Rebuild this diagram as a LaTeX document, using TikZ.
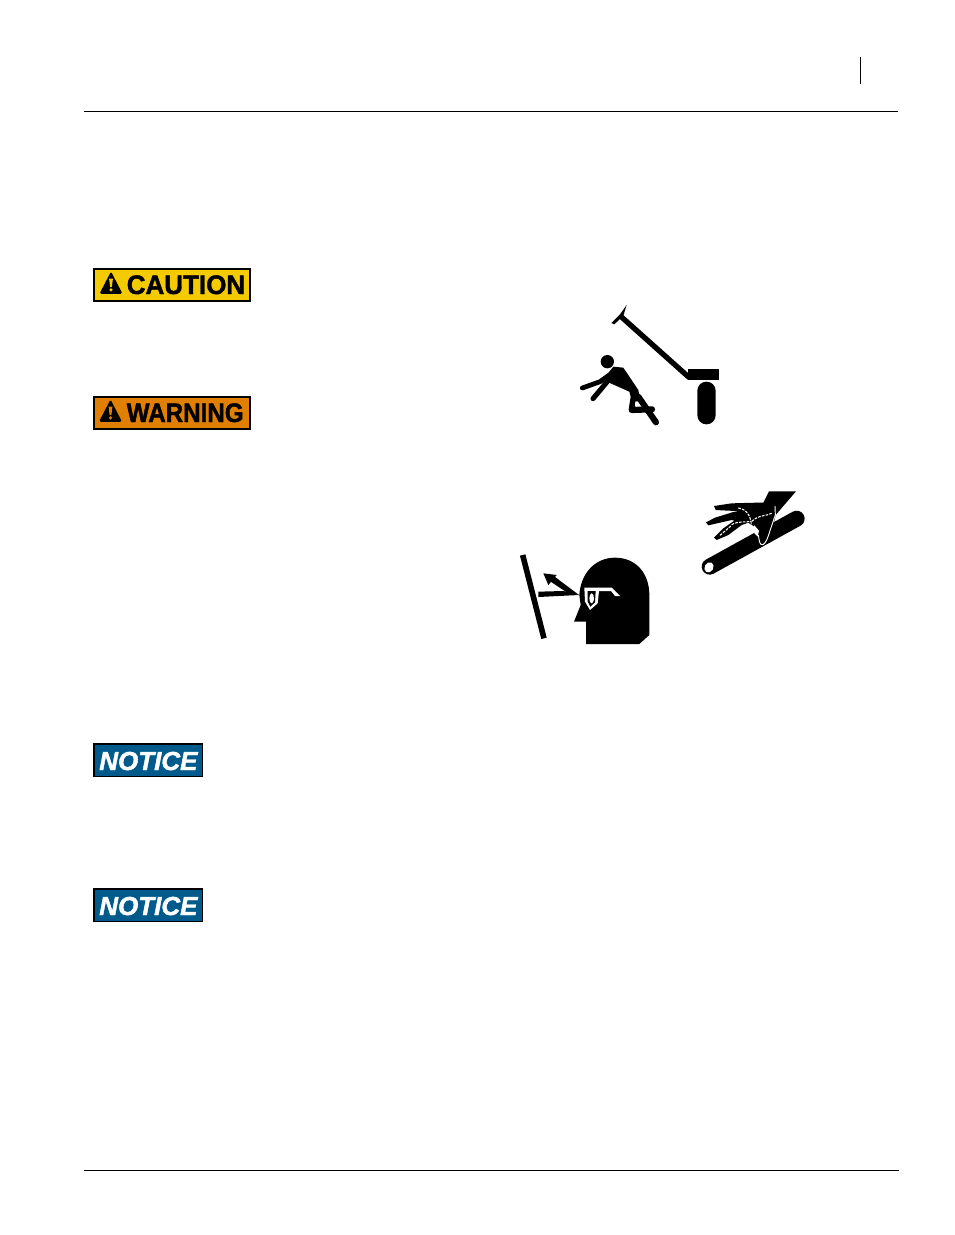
\documentclass[tikz,border=0pt]{standalone}
\usepackage{fontspec}
\usepackage{graphicx}
\setmainfont{Liberation Sans}
\newfontfamily\heavy[UprightFont={* Bold},ItalicFont={* Bold Italic},BoldFont={* Bold},FakeBold=1.6]{Liberation Sans}
\definecolor{cautionY}{HTML}{F4CB00}
\definecolor{warnO}{HTML}{E07F00}
\definecolor{noticeB}{HTML}{005A8C}
\tikzset{
  rulel/.style={draw=black,line width=0.75pt},
  signtext/.style={inner sep=0pt,anchor=base west,font=\heavy\fontsize{19.5pt}{20pt}\selectfont},
  noticetext/.style={inner sep=0pt,anchor=base west,text=white,font=\heavy\itshape\fontsize{19.5pt}{20pt}\selectfont},
  signbox/.style={draw=black,line width=0.85pt,inner sep=0pt,outer sep=0pt},
  limb/.style={draw=black,line cap=round,line join=round},
  dashw/.style={draw=white,line width=0.8pt,dash pattern=on 2pt off 0.9pt},
  fig/.style={x=0.25pt,y=-0.25pt}
}
\newcommand{\alerttri}[3]{%
  \fill[black,rounded corners=1.2pt] (#1-11.5,#2+0.3) -- (#1,#2-22) -- (#1+11.5,#2+0.3) -- cycle;
  \fill[#3] (#1-1.9,#2-15) -- (#1+1.9,#2-15) -- (#1+0.9,#2-6.5) -- (#1-0.9,#2-6.5) -- cycle;
  \fill[#3] (#1,#2-3.6) circle (1.8);
}
\begin{document}
\begin{tikzpicture}[x=0.75pt,y=-0.75pt]
\useasboundingbox (0,0) rectangle (954,1235);
\fill[white] (0,0) rectangle (954,1235);
% page rules
\coordinate (tl) at (84,111); \coordinate (tr) at (898,111);
\coordinate (bl) at (84,1170.5); \coordinate (br) at (899,1170.5);
\coordinate (ta) at (860.5,57); \coordinate (tb) at (860.5,84);
\draw[rulel] (tl) -- (tr);
\draw[rulel] (bl) -- (br);
\draw[rulel] (ta) -- (tb);
% signs
\path[signbox,fill=cautionY] (94,269) rectangle (250,301);
\alerttri{111}{293.5}{cautionY}
\node[signtext] (caution) at (126.5,294) {\scalebox{1.0}[1.03]{CAUTION}};
\path[signbox,fill=warnO] (94,397) rectangle (250,429);
\alerttri{110.5}{421.5}{warnO}
\node[signtext] (warning) at (126.5,422) {\scalebox{0.93}[1.03]{WARNING}};
\path[signbox,fill=noticeB] (94,744) rectangle (202.5,776.5);
\node[noticetext] (notice1) at (99,770) {NOTICE};
\path[signbox,fill=noticeB] (94,889) rectangle (202.5,921.5);
\node[noticetext] (notice2) at (99,915) {NOTICE};
% falling person (zoom coordinates)
\begin{scope}[shift={(570,295)},fig]
  \draw[limb,line cap=butt,line width=4pt] (150,62) -- (358,248);
  \fill (124,84) -- (150,58) -- (170,30) -- (160,62) -- (133,88) -- cycle;
  \fill (353,222) rectangle (447,254);
  \fill[rounded corners=6.8pt] (382,260) rectangle (437,388);
  \fill (112,200) circle (20);
  \draw[limb,line width=3.6pt] (37,279) -- (90,260) -- (118,240);
  \draw[limb,line width=3.8pt] (69,311) -- (120,250);
  \fill (98,255) -- (130,215) -- (160,218) -- (205,285) -- (212,320) -- (186,318) -- (178,290) -- (115,262) -- cycle;
  \draw[limb,line width=4.6pt] (205,305) -- (258,382);
  \draw[limb,line width=4.6pt] (193,295) -- (185,345) -- (246,343);
  \fill[white] (196,319) -- (208,331) -- (195,333) -- cycle;
\end{scope}
% hand and pipe
\begin{scope}[shift={(695,480)},fig]
  \draw[limb,line width=12pt] (44,260) -- (305,116);
  \fill[white,rotate around={-30:(42,262)}] (42,262) ellipse (13 and 16);
  \fill (222,34) -- (303,34) -- (242,105) -- (236,130) -- (222,170) -- (205,196) -- (195,194) -- (190,170) -- (186,150) -- (175,138) -- (160,128) -- (140,135) -- (100,165) -- (65,180) -- (57,173) -- (85,145) -- (118,122) -- (110,120) -- (40,136) -- (33,127) -- (60,113) -- (115,96) -- (130,93) -- (100,92) -- (62,90) -- (57,78) -- (110,70) -- (185,68) -- (205,68) -- cycle;
  \fill[white] (168,150) -- (178,136) -- (192,152) -- (188,170) -- cycle;
  \draw[white,line width=0.7pt] (240,78) -- (241,105) -- (225,152) .. controls (218,175) and (212,190) .. (204,194) .. controls (194,196) and (193,185) .. (190,165);
  \draw[dashw] (130,84) .. controls (160,88) and (170,115) .. (170,149);
  \draw[dashw] (170,124) .. controls (190,105) and (215,108) .. (230,100);
  \draw[dashw] (110,134) .. controls (130,122) and (150,128) .. (168,124);
  \draw[dashw] (75,166) -- (110,136);
\end{scope}
% head with goggles
\begin{scope}[shift={(510,545)},fig]
  \draw[limb,line cap=butt,line width=4.2pt] (38,30) -- (102,280);
  \fill (85,140) -- (160,138) -- (207,150) -- (85,156) -- cycle;
  \fill (207,150) -- (130,92) -- (122,110) -- (170,142) -- cycle;
  \fill (100,85) -- (140,90) -- (115,120) -- cycle;
  \fill (228,297) -- (228,230) -- (192,230) -- (212,180) -- (208,150) .. controls (212,85) and (255,38) .. (315,38) .. controls (378,38) and (418,85) .. (418,150) -- (418,270) -- (388,297) -- cycle;
  \fill[white] (223,128) -- (305,128) -- (330,153) -- (315,153) -- (303,138) -- (267,138) -- (263,175) -- (240,195) -- (225,170) -- cycle;
  \fill[black] (233,138) -- (257,138) -- (255,172) -- (241,185) -- (233,170) -- cycle;
  \fill[white] (245,160) ellipse (7 and 15);
\end{scope}
\end{tikzpicture}
\end{document}
